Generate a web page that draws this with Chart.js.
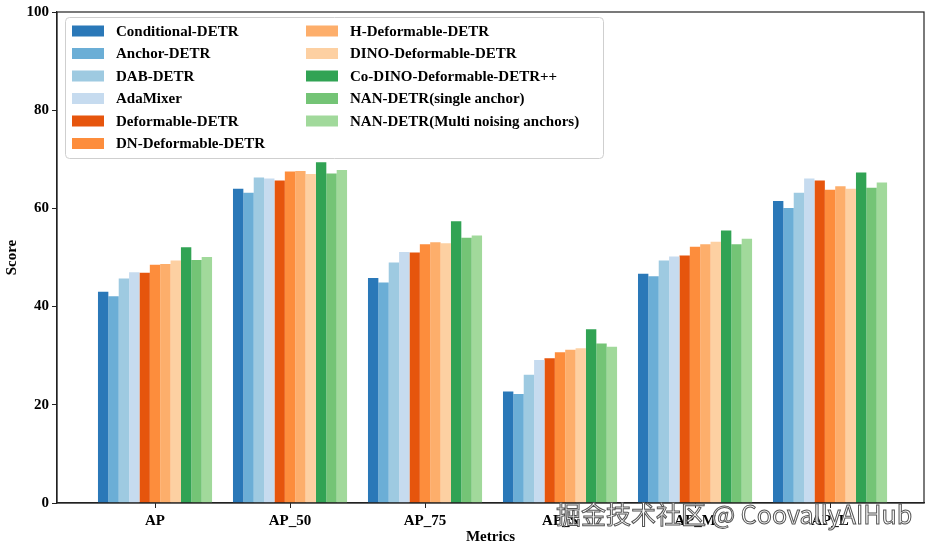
<!DOCTYPE html>
<html>
<head>
<meta charset="utf-8">
<script src="https://cdn.jsdelivr.net/npm/chart.js@4.4.0/dist/chart.umd.min.js"></script>
<style>
    html, body { margin: 0; padding: 0; background: #fff; }
    #wrap { position: relative; width: 935px; height: 546px; }
    #watermark {
        position: absolute; left: 556px; top: 495px;
        font-family: "Noto Sans CJK SC", "Noto Sans", sans-serif;
        font-size: 25px; color: #fff; white-space: nowrap;
        -webkit-text-stroke: 1px #555;
    }
</style>
</head>
<body>
<div id="wrap">
    <canvas id="score-chart" width="935" height="546"></canvas>
    <div id="watermark">掘金技术社区 @ CoovallyAIHub</div>
</div>
<script>
// Categories on the x axis
const metrics = ['AP', 'AP_50', 'AP_75', 'AP_S', 'AP_M', 'AP_L'];

// Model names (legend order)
const models = [
    'Conditional-DETR', 'Anchor-DETR', 'DAB-DETR', 'AdaMixer',
    'Deformable-DETR', 'DN-Deformable-DETR', 'H-Deformable-DETR', 'DINO-Deformable-DETR',
    'Co-DINO-Deformable-DETR++', 'NAN-DETR(single anchor)', 'NAN-DETR(Multi noising anchors)'
];

// Scores per model, one value per metric
const conditionalDetr = [43.0, 64.0, 45.8, 22.7, 46.7, 61.5];
const anchorDetr      = [42.1, 63.2, 44.9, 22.2, 46.2, 60.1];
const dabDetr         = [45.7, 66.3, 49.0, 26.1, 49.4, 63.2];
const adaMixer        = [47.0, 66.1, 51.1, 29.1, 50.2, 66.1];
const deformableDetr  = [46.9, 65.7, 51.0, 29.5, 50.4, 65.7];
const dnDeformable    = [48.5, 67.5, 52.7, 30.7, 52.2, 63.8];
const hDeformable     = [48.7, 67.6, 53.1, 31.2, 52.7, 64.5];
const dinoDeformable  = [49.4, 67.0, 52.9, 31.5, 53.2, 64.0];
const coDino          = [52.1, 69.4, 57.4, 35.4, 55.5, 67.3];
const nanSingle       = [49.5, 67.1, 54.0, 32.5, 52.7, 64.2];
const nanMulti        = [50.1, 67.8, 54.5, 31.8, 53.8, 65.3];

const seriesValues = [
    conditionalDetr, anchorDetr, dabDetr, adaMixer,
    deformableDetr, dnDeformable, hDeformable, dinoDeformable,
    coDino, nanSingle, nanMulti
];

const colors = [
    '#2a78b8', '#6baed6', '#9ecae1', '#c6dbef',
    '#e6550d', '#fd8d3c', '#fdae6b', '#fdd0a2',
    '#31a354', '#74c476', '#a1d99b'
];

const yTicks = [0, 20, 40, 60, 80, 100];

const serif = '"Liberation Serif", "Times New Roman", serif';

// Top/right spines like matplotlib
const framePlugin = {
    id: 'frame',
    afterDraw(chart) {
        const { ctx, chartArea: a } = chart;
        ctx.save();
        ctx.strokeStyle = '#222';
        ctx.lineWidth = 1.2;
        ctx.strokeRect(a.left, a.top, a.right - a.left, a.bottom - a.top);
        ctx.restore();
    }
};

// Two-column legend drawn inside the plot (matplotlib style, ncol=2)
const legendPlugin = {
    id: 'twoColLegend',
    afterDraw(chart) {
        const ctx = chart.ctx;
        ctx.save();
        const bx = 65, by = 17, bw = 538, bh = 141, r = 4;
        ctx.fillStyle = 'rgba(255,255,255,0.85)';
        ctx.strokeStyle = '#cfcfcf';
        ctx.lineWidth = 1;
        ctx.beginPath();
        ctx.roundRect(bx + 0.5, by + 0.5, bw, bh, r);
        ctx.fill();
        ctx.stroke();

        ctx.font = 'bold 15px ' + serif;
        ctx.textBaseline = 'middle';
        chart.data.datasets.forEach((ds, i) => {
            const col = i < 6 ? 0 : 1;
            const row = i < 6 ? i : i - 6;
            const sx = col === 0 ? 72 : 306;
            const tx = col === 0 ? 116 : 350;
            const cy = 31 + row * 22.5;
            ctx.fillStyle = ds.backgroundColor;
            ctx.fillRect(sx, cy - 5.5, 32, 11);
            ctx.fillStyle = '#000';
            ctx.fillText(ds.label, tx, cy + 1);
        });
        ctx.restore();
    }
};

const datasets = models.map((name, i) => ({
    label: name,
    data: seriesValues[i].map((v, j) => ({ x: j, y: v })),
    backgroundColor: colors[i],
    borderWidth: 0,
    categoryPercentage: 0.845,
    barPercentage: 1.0
}));

const ctx = document.getElementById('score-chart').getContext('2d');
const chart = new Chart(ctx, {
    type: 'bar',
    data: { datasets: datasets },
    options: {
        responsive: false,
        animation: false,
        layout: { padding: { top: 10, right: 11, left: 0, bottom: 0 } },
        plugins: {
            legend: { display: false },
            tooltip: { enabled: false }
        },
        scales: {
            x: {
                type: 'linear',
                offset: false,
                min: -0.726,
                max: 5.696,
                afterBuildTicks: (scale) => {
                    scale.ticks = metrics.map((m, i) => ({ value: i }));
                },
                afterFit: (scale) => { scale.height = 43; },
                grid: { display: true, offset: false, drawOnChartArea: false, tickLength: 5, tickColor: '#222', color: '#222' },
                border: { display: true, color: '#222', width: 1.2 },
                ticks: {
                    color: '#000',
                    padding: 4,
                    font: { family: serif, size: 15, weight: 'bold' },
                    callback: (v) => metrics[v] ?? ''
                },
                title: {
                    display: true,
                    text: 'Metrics',
                    color: '#000',
                    padding: 0,
                    font: { family: serif, size: 15, weight: 'bold' }
                }
            },
            y: {
                min: 0,
                max: 100,
                afterBuildTicks: (scale) => {
                    scale.ticks = yTicks.map(v => ({ value: v }));
                },
                afterFit: (scale) => { scale.width = 57; },
                grid: { display: true, drawOnChartArea: false, tickLength: 5, tickColor: '#222', color: '#222' },
                border: { display: true, color: '#222', width: 1.2 },
                ticks: {
                    color: '#000',
                    padding: 3,
                    font: { family: serif, size: 15, weight: 'bold' }
                },
                title: {
                    display: true,
                    text: 'Score',
                    color: '#000',
                    padding: { top: 3, bottom: 0 },
                    font: { family: serif, size: 15, weight: 'bold' }
                }
            }
        }
    },
    plugins: [framePlugin, legendPlugin]
});
</script>
</body>
</html>
